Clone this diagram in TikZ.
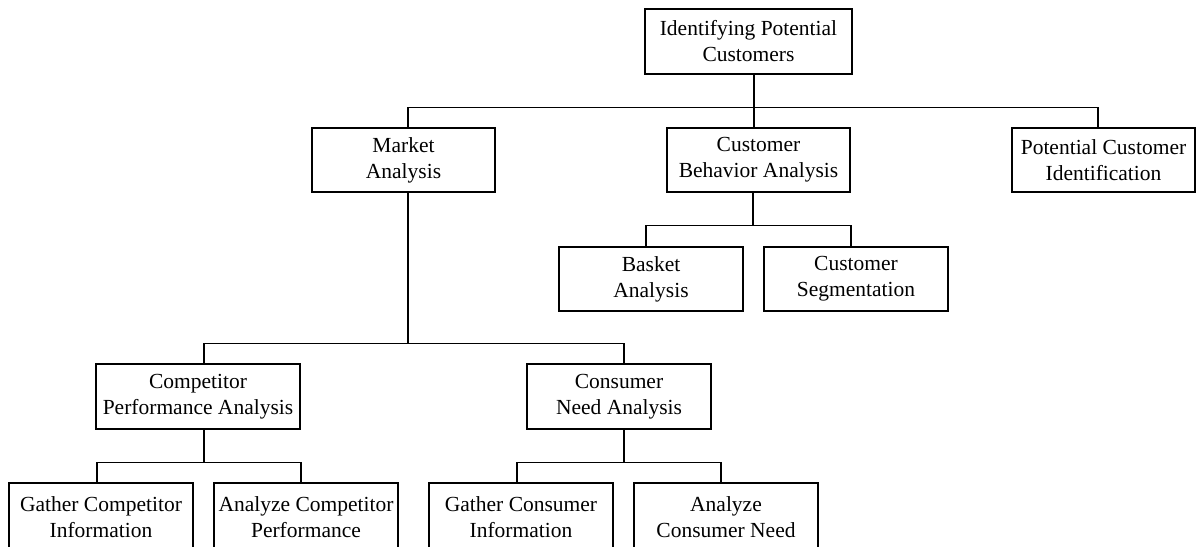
\documentclass[tikz,border=0pt]{standalone}
\usepackage{fontspec}
\setmainfont{Liberation Serif}
\begin{document}
\begin{tikzpicture}[x=1pt,y=-1pt,
  box/.style={draw, line width=1.4pt, rectangle, inner sep=0pt, align=center,
    font=\fontsize{21.5}{26}\selectfont, minimum height=64pt},
  link/.style={draw, line width=1.4pt}]
\useasboundingbox (0,0) rectangle (1196,546);
\begin{scope}
\clip (0,0) rectangle (1196,546);
% level 0
\node[box, minimum width=207pt, minimum height=65pt] (root) at (748.5,41.5) {Identifying Potential\\Customers};
% level 1
\node[box, minimum width=183pt] (market) at (403.5,160) {Market\\Analysis};
\node[box, minimum width=183pt] (behav) at (758.5,160) {Customer\\Behavior Analysis};
\node[box, minimum width=183pt] (potid) at (1103.5,160) {Potential Customer\\Identification};
% level 2 under behaviour analysis
\node[box, minimum width=184pt] (basket) at (651,279) {Basket\\Analysis};
\node[box, minimum width=184pt] (segm) at (856,279) {Customer\\Segmentation};
% level 2 under market analysis
\node[box, minimum width=204pt, minimum height=65pt] (compperf) at (198,396.5) {Competitor\\Performance Analysis};
\node[box, minimum width=184pt, minimum height=65pt] (consneed) at (619,396.5) {Consumer\\Need Analysis};
% level 3 (boxes run past the lower edge)
\node[box, minimum width=184pt, minimum height=68pt] (gathcomp) at (101,517) {Gather Competitor\\Information};
\node[box, minimum width=184pt, minimum height=68pt] (analcomp) at (306,517) {Analyze Competitor\\Performance};
\node[box, minimum width=184pt, minimum height=68pt] (gathcons) at (521,517) {Gather Consumer\\Information};
\node[box, minimum width=184pt, minimum height=68pt] (analcons) at (726,517) {Analyze\\Consumer Need};
\end{scope}
% connectors
\draw[link] ([xshift=5.5pt]root.south) -- ++(0,32.5) -| ([xshift=4.5pt]market.north);
\draw[link] ([xshift=5.5pt]root.south) -- ++(0,32.5) -| ([xshift=-4.5pt]behav.north);
\draw[link] ([xshift=5.5pt]root.south) -- ++(0,32.5) -| ([xshift=-5.5pt]potid.north);
\draw[link] ([xshift=-5.5pt]behav.south) -- ++(0,33) -| ([xshift=-5pt]basket.north);
\draw[link] ([xshift=-5.5pt]behav.south) -- ++(0,33) -| ([xshift=-5pt]segm.north);
\draw[link] ([xshift=4.5pt]market.north |- market.south) -- ++(0,151) -| ([xshift=6pt]compperf.north);
\draw[link] ([xshift=4.5pt]market.north |- market.south) -- ++(0,151) -| ([xshift=5pt]consneed.north);
\draw[link] ([xshift=6pt]compperf.south) -- ++(0,33) -| ([xshift=-4pt]gathcomp.north);
\draw[link] ([xshift=6pt]compperf.south) -- ++(0,33) -| ([xshift=-5pt]analcomp.north);
\draw[link] ([xshift=5pt]consneed.south) -- ++(0,33) -| ([xshift=-4pt]gathcons.north);
\draw[link] ([xshift=5pt]consneed.south) -- ++(0,33) -| ([xshift=-5pt]analcons.north);
\end{tikzpicture}
\end{document}
